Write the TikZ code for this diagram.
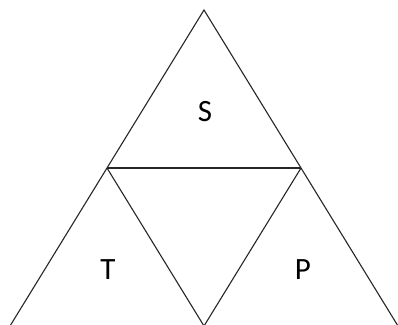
\documentclass[tikz,border=0pt]{standalone}
\usepackage{fontspec}
\setmainfont{Carlito}
\usetikzlibrary{calc}
\tikzset{
  edge/.style={draw=black!85,line width=1.1pt,line join=miter},
  lbl/.style={font=\fontsize{31}{36}\selectfont,inner sep=0pt,anchor=center}
}
\begin{document}
\begin{tikzpicture}[x=1pt,y=-1pt]
  \useasboundingbox (0,0) rectangle (398,324);
  \coordinate (top) at (204,10);
  \coordinate (bl) at (10,326);
  \coordinate (br) at (398,326);
  \coordinate (ml) at ($(top)!0.5!(bl)$);
  \coordinate (mr) at ($(top)!0.5!(br)$);
  \coordinate (mb) at ($(bl)!0.5!(br)$);

  \draw[edge] (bl)--(top)--(br);
  \draw[edge] (ml)--(mr);
  \draw[edge] (ml)--(mb)--(mr);

  \node[lbl] (s) at (205,112) {S};
  \node[lbl] (t) at (108,270) {T};
  \node[lbl] (p) at (303,270) {P};
\end{tikzpicture}
\end{document}
